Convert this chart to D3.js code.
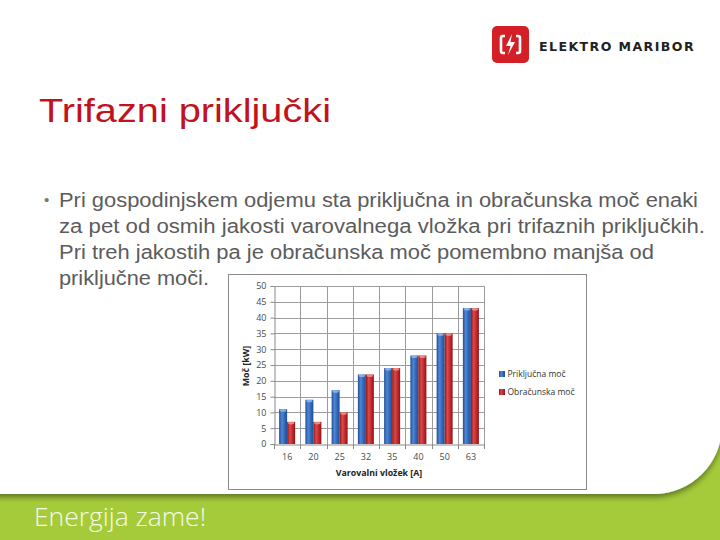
<!DOCTYPE html>
<html><head><meta charset="utf-8">
<script src="https://cdn.jsdelivr.net/npm/d3@7"></script>
<style>
html,body{margin:0;padding:0;background:#fff;}
svg{display:block;}
</style></head>
<body>
<svg id="s" width="720" height="540"></svg>
<script>
const categories = ["16","20","25","32","35","40","50","63"];
const seriesNames = ["Priključna moč","Obračunska moč"];
const prikljucna = [11,14,17,22,24,28,35,43];
const obracunska = [7,7,10,22,24,28,35,43];
const yTicks = [0,5,10,15,20,25,30,35,40,45,50];
const bulletLines = [
  "Pri gospodinjskem odjemu sta priključna in obračunska moč enaki",
  "za pet od osmih jakosti varovalnega vložka pri trifaznih priključkih.",
  "Pri treh jakostih pa je obračunska moč pomembno manjša od",
  "priključne moči."
];

const svg = d3.select("#s");
const defs = svg.append("defs");

// ---------- slide background ----------
const flt = defs.append("filter").attr("id","sh").attr("x","-10%").attr("y","-10%").attr("width","130%").attr("height","140%");
flt.append("feGaussianBlur").attr("in","SourceAlpha").attr("stdDeviation",3);
flt.append("feOffset").attr("dx",0).attr("dy",3).attr("result","o");
flt.append("feComponentTransfer").append("feFuncA").attr("type","linear").attr("slope",0.45);
const fm = flt.append("feMerge"); fm.append("feMergeNode"); fm.append("feMergeNode").attr("in","SourceGraphic");

svg.append("rect").attr("x",0).attr("y",0).attr("width",720).attr("height",540).attr("fill","#a5cb3b");
svg.append("path")
  .attr("d","M-10,-10 H722 V426 A68,68 0 0 1 654,494 H-10 Z")
  .attr("fill","#ffffff").attr("filter","url(#sh)");

// footer text
svg.append("text").attr("x",34).attr("y",526)
  .attr("font-family","'Open Sans', sans-serif").attr("font-weight",300)
  .attr("font-size",25.5).attr("fill","#f6fae6")
  .attr("textLength",172).attr("lengthAdjust","spacingAndGlyphs").text("Energija zame!");

// logo
const lg = svg.append("g");
lg.append("rect").attr("x",492).attr("y",26).attr("width",37).attr("height",37).attr("rx",5).attr("fill","#d41f26");
lg.append("path").attr("d","M505,36 H503 Q501,36 501,38 V51 Q501,53 503,53 H505").attr("fill","none").attr("stroke","#fff").attr("stroke-width",2.6);
lg.append("path").attr("d","M516,36 H518 Q520,36 520,38 V51 Q520,53 518,53 H516").attr("fill","none").attr("stroke","#fff").attr("stroke-width",2.6);
lg.append("path").attr("d","M512,34 L506,46 L510.5,46 L508,55 L515,42 L510.5,42 Z").attr("fill","#fff");
lg.append("text").attr("x",539).attr("y",50.5)
  .attr("font-family","'DejaVu Sans', sans-serif").attr("font-weight","bold")
  .attr("font-size",11.5).attr("letter-spacing",1.3).attr("fill","#231f20")
  .attr("textLength",156).attr("lengthAdjust","spacingAndGlyphs")
  .text("ELEKTRO MARIBOR");

// title
svg.append("text").attr("x",39).attr("y",122)
  .attr("font-family","'Liberation Sans', Arial, sans-serif")
  .attr("font-size",34).attr("fill","#c2121b")
  .attr("textLength",292).attr("lengthAdjust","spacingAndGlyphs")
  .text("Trifazni priključki");

// bullet
svg.append("text").attr("x",44).attr("y",205)
  .attr("font-family","'Liberation Sans', Arial, sans-serif")
  .attr("font-size",15).attr("fill","#777").text("•");
const bt = svg.append("g").attr("font-family","'Liberation Sans', Arial, sans-serif")
  .attr("font-size",19.5).attr("fill","#5c5c5c");
const lineW = [639, 646, 595, 150];
bulletLines.forEach((t,i)=>{
  bt.append("text").attr("x",59).attr("y",207+i*26)
    .attr("textLength",lineW[i]).attr("lengthAdjust","spacingAndGlyphs").text(t);
});

// ---------- chart ----------
const cg = svg.append("g");
cg.append("rect").attr("x",228.5).attr("y",274.5).attr("width",358).attr("height",215)
  .attr("fill","#fff").attr("stroke","#8a8a8a").attr("stroke-width",1);

const x0 = d3.scaleBand().domain(categories).range([274,484]).paddingInner(0).paddingOuter(0);
const x1 = d3.scaleBand().domain(seriesNames).range([0,x0.bandwidth()]).paddingInner(0).paddingOuter(0.64);
const y = d3.scaleLinear().domain([0,50]).range([444,286]);

// horizontal grid
cg.append("g").selectAll("line").data(yTicks.filter(d=>d>0)).join("line")
  .attr("x1",274).attr("x2",484)
  .attr("y1",d=>Math.round(y(d))+0.5).attr("y2",d=>Math.round(y(d))+0.5)
  .attr("stroke","#9c9c9c").attr("stroke-width",1);
// vertical grid at band edges
const edges = categories.map(c=>x0(c)).concat([x0.range()[1]]);
cg.append("g").selectAll("line").data(edges.slice(1)).join("line")
  .attr("x1",d=>Math.round(d)+0.5).attr("x2",d=>Math.round(d)+0.5)
  .attr("y1",286).attr("y2",444)
  .attr("stroke","#9c9c9c").attr("stroke-width",1);

// gradients
function grad(id, dark, mid, light){
  const g = defs.append("linearGradient").attr("id",id).attr("x1","0").attr("x2","1").attr("y1","0").attr("y2","0");
  g.append("stop").attr("offset","0%").attr("stop-color",dark);
  g.append("stop").attr("offset","35%").attr("stop-color",light);
  g.append("stop").attr("offset","70%").attr("stop-color",mid);
  g.append("stop").attr("offset","100%").attr("stop-color",dark);
}
grad("gb","#1f4f96","#2f66b6","#4f86d4");
grad("gr","#8e1518","#c0262a","#dc4a48");
const fills = ["url(#gb)","url(#gr)"];
const capCol = ["#8fb4ea","#ee8f8c"];

const data = categories.map((c,i)=>({c, v:[prikljucna[i], obracunska[i]]}));
const bars = cg.append("g");
data.forEach(d=>{
  seriesNames.forEach((s,j)=>{
    const bx = x0(d.c)+x1(s), bw = x1.bandwidth(), by = y(d.v[j]);
    bars.append("rect").attr("x",bx).attr("y",by).attr("width",bw).attr("height",y(0)-by).attr("fill",fills[j]);
    bars.append("ellipse").attr("cx",bx+bw/2).attr("cy",by+1.2).attr("rx",bw/2-0.8).attr("ry",1.3)
      .attr("fill",capCol[j]).attr("opacity",0.9);
  });
});

// axes
const yAxis = d3.axisLeft(y).tickValues(yTicks).tickSize(4).tickPadding(4).tickFormat(d3.format("d"));
const ya = cg.append("g").attr("transform","translate(274.5,0)").call(yAxis);
ya.select(".domain").attr("stroke","#8a8a8a");
ya.selectAll(".tick line").attr("stroke","#8a8a8a");
ya.selectAll(".tick text").attr("font-family","'Open Sans', sans-serif").attr("font-size",9).attr("fill","#4a4a4a");

const xAxis = d3.axisBottom(x0).tickSize(0).tickPadding(9);
const xa = cg.append("g").attr("transform","translate(0,444.5)").call(xAxis);
xa.select(".domain").attr("stroke","#8a8a8a");
xa.selectAll(".tick text").attr("font-family","'Open Sans', sans-serif").attr("font-size",9).attr("fill","#4a4a4a");
cg.append("g").selectAll("line").data(edges).join("line")
  .attr("x1",d=>Math.round(d)+0.5).attr("x2",d=>Math.round(d)+0.5)
  .attr("y1",444).attr("y2",449).attr("stroke","#8a8a8a");

// axis titles
cg.append("text").attr("x",379).attr("y",476).attr("text-anchor","middle")
  .attr("font-family","'Open Sans', sans-serif").attr("font-weight","bold").attr("font-size",8.8).attr("fill","#222")
  .text("Varovalni vložek [A]");
cg.append("text").attr("transform","translate(249,366) rotate(-90)").attr("text-anchor","middle")
  .attr("font-family","'Open Sans', sans-serif").attr("font-weight","bold").attr("font-size",8.8).attr("fill","#222")
  .text("Moč [kW]");

// legend
const leg = cg.append("g");
seriesNames.forEach((s,j)=>{
  const ly = 374 + j*18;
  leg.append("rect").attr("x",499).attr("y",ly-3).attr("width",6).attr("height",6).attr("fill",fills[j]);
  leg.append("text").attr("x",507.5).attr("y",ly+3).attr("font-family","'Open Sans', sans-serif")
    .attr("font-size",8.5).attr("fill","#333").text(s);
});
</script>
</body></html>
